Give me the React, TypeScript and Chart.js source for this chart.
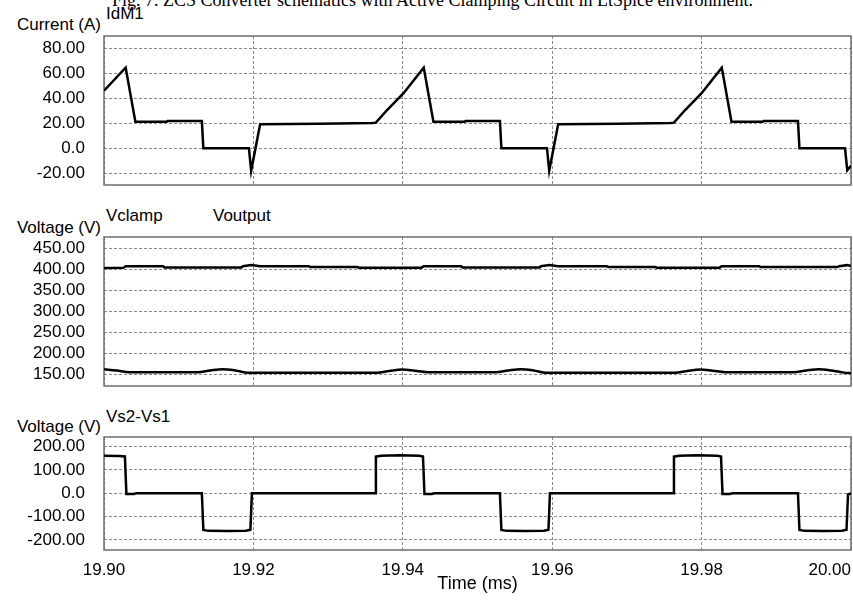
import React, { useEffect, useRef } from 'react';
import { Chart, registerables } from 'chart.js';

Chart.register(...registerables);

const FONT = '"Liberation Sans", Arial, Helvetica, sans-serif';

// ---------- data ----------
const xTicks = [19.9, 19.92, 19.94, 19.96, 19.98, 20.0];
const xMin = 19.9;
const xMax = 20.0;

const yTicksCurrent = [-20, 0, 20, 40, 60, 80];
const yTicksVoltage = [150, 200, 250, 300, 350, 400, 450];
const yTicksVs = [-200, -100, 0, 100, 200];

const idm1Time = [
  19.9, 19.9029, 19.9042, 19.9084, 19.9085, 19.9131, 19.9133, 19.9194, 19.9197, 19.9209,
  19.9289, 19.9359, 19.9364, 19.9379, 19.9401, 19.9428, 19.9441, 19.9483, 19.9484, 19.953,
  19.9532, 19.9593, 19.9596, 19.9608, 19.9688, 19.9758, 19.9763, 19.9778, 19.98, 19.9827,
  19.984, 19.9882, 19.9883, 19.9929, 19.9931, 19.9992, 19.9995, 20.0,
];
const idm1Value = [
  46, 64.5, 21.3, 21.3, 21.9, 21.9, 0, 0, -18, 19.2,
  19.6, 20.2, 20.5, 30.6, 44, 64.5, 21.3, 21.3, 21.9, 21.9,
  0, 0, -18, 19.2, 19.6, 20.2, 20.5, 30.6, 44, 64.5,
  21.3, 21.3, 21.9, 21.9, 0, 0, -17.5, -14,
];

const vclampTime = [
  19.9, 19.9026, 19.9029, 19.9079, 19.9081, 19.9184, 19.9186, 19.9197, 19.9209, 19.9274,
  19.9276, 19.9339, 19.9341, 19.9425, 19.9428, 19.9478, 19.948, 19.9583, 19.9585, 19.9596,
  19.9608, 19.9673, 19.9675, 19.9738, 19.974, 19.9824, 19.9827, 19.9877, 19.9879, 19.9982,
  19.9984, 19.9995, 20.0,
];
const vclampValue = [
  403, 403.5, 407.5, 407.5, 404.5, 404.5, 407.5, 410.5, 407.5, 407.5,
  405.5, 405.5, 404, 404, 407.5, 407.5, 404.5, 404.5, 407.5, 410.5,
  407.5, 407.5, 405.5, 405.5, 404, 404, 407.5, 407.5, 405.5, 405.5,
  407.5, 410, 408,
];

const voutTime = [
  19.9, 19.9017, 19.9034, 19.9125, 19.9142, 19.9159, 19.9176, 19.9193, 19.9365, 19.9382,
  19.9399, 19.9416, 19.9433, 19.9524, 19.9541, 19.9558, 19.9575, 19.9592, 19.9764, 19.9781,
  19.9798, 19.9815, 19.9832, 19.9923, 19.994, 19.9957, 19.9974, 19.9991, 20.0,
];
const voutValue = [
  162.5, 159.5, 155.5, 155.5, 159.5, 162.5, 159.5, 154, 154, 158.5,
  162, 159, 155.5, 155.5, 159.5, 162.5, 159.5, 154, 154, 158.5,
  162, 159, 155.5, 155.5, 159.5, 162.5, 159.5, 154.5, 153,
];

const vsTime = [
  19.9, 19.902, 19.9028, 19.903, 19.904, 19.9043, 19.9131, 19.9133, 19.914, 19.9165,
  19.919, 19.9196, 19.9198, 19.9363, 19.9364, 19.9371, 19.9395, 19.9422, 19.9427, 19.9429,
  19.9439, 19.9442, 19.953, 19.9532, 19.9539, 19.9564, 19.9589, 19.9595, 19.9597, 19.9762,
  19.9763, 19.977, 19.9794, 19.9821, 19.9826, 19.9828, 19.9838, 19.9841, 19.9929, 19.9931,
  19.9938, 19.9963, 19.9988, 19.9994, 19.9996, 20.0,
];
const vsValue = [
  161, 160, 158, -3, -3, 0, 0, -157, -161, -162,
  -160, -156, 0, 0, 157, 161, 163, 161, 158, -3,
  -3, 0, 0, -157, -161, -162, -160, -156, 0, 0,
  157, 161, 163, 161, 158, -3, -3, 0, 0, -157,
  -161, -162, -160, -156, -5, 0,
];

// ---------- helpers ----------
const toPoints = (t: number[], v: number[]) => t.map((x, i) => ({ x, y: v[i] }));
const fmtY = (v: number) => (v === 0 ? '0.0' : v.toFixed(2));
const fmtX = (v: number) => v.toFixed(2);

const framePlugin = {
  id: 'frame',
  beforeDatasetsDraw(chart: any) {
    const { ctx, chartArea } = chart;
    ctx.save();
    ctx.strokeStyle = '#6e6e6e';
    ctx.lineWidth = 1.5;
    ctx.strokeRect(chartArea.left, chartArea.top, chartArea.right - chartArea.left, chartArea.bottom - chartArea.top);
    ctx.restore();
  },
};

const xLabelPlugin = {
  id: 'xLabels',
  afterDraw(chart: any) {
    const { ctx, chartArea } = chart;
    const xs = chart.scales.x;
    ctx.save();
    ctx.font = `17px ${FONT}`;
    ctx.fillStyle = '#000';
    ctx.textBaseline = 'middle';
    ctx.textAlign = 'center';
    xs.ticks.forEach((t: any) => {
      const label = fmtX(t.value);
      const w = ctx.measureText(label).width;
      let cx = xs.getPixelForValue(t.value);
      cx = Math.min(cx, chart.width - 2 - w / 2);
      ctx.fillText(label, cx, chartArea.bottom + 20);
    });
    ctx.font = `18px ${FONT}`;
    ctx.fillText('Time (ms)', (chartArea.left + chartArea.right) / 2, chartArea.bottom + 34);
    ctx.restore();
  },
};

type PanelCfg = {
  datasets: any[];
  yMin: number;
  yMax: number;
  yTicks: number[];
  padBottom: number;
  xLabels: boolean;
};

function buildChart(canvas: HTMLCanvasElement, cfg: PanelCfg) {
  return new Chart(canvas, {
    type: 'line',
    data: { datasets: cfg.datasets },
    options: {
      animation: false,
      responsive: false,
      devicePixelRatio: 1,
      layout: { padding: { top: 6, bottom: cfg.padBottom, left: 0, right: 2 } },
      plugins: { legend: { display: false }, tooltip: { enabled: false }, title: { display: false } },
      elements: { point: { radius: 0 }, line: { tension: 0 } },
      scales: {
        x: {
          type: 'linear',
          min: xMin,
          max: xMax,
          afterBuildTicks: (axis: any) => {
            axis.ticks = xTicks.map((v) => ({ value: v }));
          },
          afterFit: (axis: any) => {
            axis.height = 0;
            axis.paddingLeft = 0;
            axis.paddingRight = 0;
            axis.paddingTop = 0;
            axis.paddingBottom = 0;
          },
          ticks: { display: false, autoSkip: false },
          grid: { color: '#8a8a8a', lineWidth: 1, drawTicks: false },
          border: { display: false, dash: [3, 2] },
        },
        y: {
          type: 'linear',
          min: cfg.yMin,
          max: cfg.yMax,
          afterBuildTicks: (axis: any) => {
            axis.ticks = cfg.yTicks.map((v) => ({ value: v }));
          },
          afterFit: (axis: any) => {
            axis.width = 104;
            axis.paddingTop = 0;
            axis.paddingBottom = 0;
            axis.paddingLeft = 0;
            axis.paddingRight = 0;
          },
          ticks: {
            padding: 19,
            autoSkip: false,
            color: '#000',
            font: { family: FONT, size: 17 },
            callback: (v: any) => fmtY(Number(v)),
          },
          grid: { color: '#8a8a8a', lineWidth: 1, drawTicks: false },
          border: { display: false, dash: [3, 2] },
        },
      },
    },
    plugins: cfg.xLabels ? [framePlugin, xLabelPlugin] : [framePlugin],
  } as any);
}

const lineStyle = { borderColor: '#000', borderWidth: 2.5, pointRadius: 0, fill: false };

export default function App() {
  const c1 = useRef<HTMLCanvasElement>(null);
  const c2 = useRef<HTMLCanvasElement>(null);
  const c3 = useRef<HTMLCanvasElement>(null);

  useEffect(() => {
    const charts: Chart[] = [];
    if (c1.current) {
      charts.push(
        buildChart(c1.current, {
          datasets: [{ label: 'IdM1', data: toPoints(idm1Time, idm1Value), ...lineStyle }],
          yMin: -29.4,
          yMax: 89.8,
          yTicks: yTicksCurrent,
          padBottom: 7,
          xLabels: false,
        })
      );
    }
    if (c2.current) {
      charts.push(
        buildChart(c2.current, {
          datasets: [
            { label: 'Vclamp', data: toPoints(vclampTime, vclampValue), ...lineStyle },
            {
              label: 'Voutput',
              data: toPoints(voutTime, voutValue),
              ...lineStyle,
              cubicInterpolationMode: 'monotone',
            },
          ],
          yMin: 122.7,
          yMax: 476.9,
          yTicks: yTicksVoltage,
          padBottom: 7,
          xLabels: false,
        })
      );
    }
    if (c3.current) {
      charts.push(
        buildChart(c3.current, {
          datasets: [{ label: 'Vs2-Vs1', data: toPoints(vsTime, vsValue), ...lineStyle }],
          yMin: -243,
          yMax: 241.3,
          yTicks: yTicksVs,
          padBottom: 51,
          xLabels: true,
        })
      );
    }
    return () => charts.forEach((c) => c.destroy());
  }, []);

  const txt: React.CSSProperties = {
    position: 'absolute',
    fontFamily: FONT,
    fontSize: 17,
    lineHeight: '17px',
    color: '#000',
    whiteSpace: 'nowrap',
  };

  return (
    <div
      style={{
        position: 'fixed',
        left: 0,
        top: 0,
        width: 853,
        height: 601,
        overflow: 'hidden',
        background: '#fff',
      }}
    >
      <div
        style={{
          position: 'absolute',
          left: 112,
          top: -9,
          fontFamily: '"Liberation Serif", "Times New Roman", serif',
          fontSize: 18,
          lineHeight: '18px',
          whiteSpace: 'nowrap',
          color: '#000',
        }}
      >
        Fig. 7. ZCS Converter schematics with Active Clamping Circuit in LtSpice environment.
      </div>

      <div style={{ ...txt, right: 853 - 101, top: 16 }}>Current (A)</div>
      <div style={{ ...txt, left: 106, top: 5 }}>IdM1</div>

      <div style={{ ...txt, right: 853 - 101, top: 219 }}>Voltage (V)</div>
      <div style={{ ...txt, left: 106, top: 207 }}>Vclamp</div>
      <div style={{ ...txt, left: 213, top: 207 }}>Voutput</div>

      <div style={{ ...txt, right: 853 - 101, top: 418 }}>Voltage (V)</div>
      <div style={{ ...txt, left: 106, top: 408 }}>Vs2-Vs1</div>

      <canvas ref={c1} width={853} height={162} style={{ position: 'absolute', left: 0, top: 30 }} />
      <canvas ref={c2} width={853} height={162} style={{ position: 'absolute', left: 0, top: 231 }} />
      <canvas ref={c3} width={853} height={170} style={{ position: 'absolute', left: 0, top: 431 }} />
    </div>
  );
}
